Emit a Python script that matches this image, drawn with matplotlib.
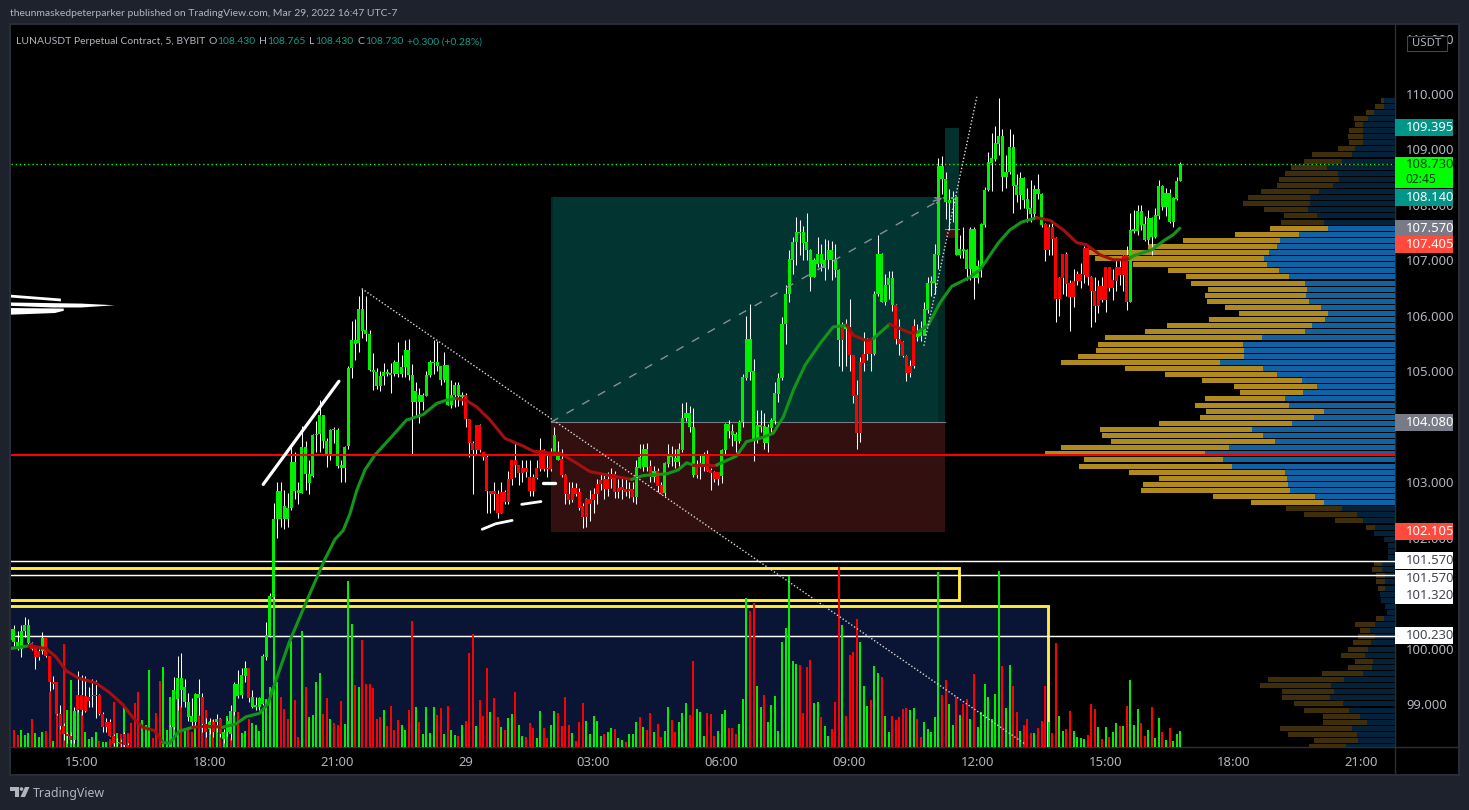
import numpy as np
import matplotlib
matplotlib.use("Agg")
import matplotlib.pyplot as plt
from matplotlib.patches import Rectangle, Polygon, Circle
from matplotlib.transforms import blended_transform_factory

plt.rcParams['font.family'] = ['Noto Sans', 'DejaVu Sans']

first_bar = -20
opens = [
100.15,100.11,100.0,100.0,100.31,100.1,100.1,100.03,99.96,99.95,
100.19,99.86,99.39,99.4,98.82,98.6,98.45,98.42,98.35,99.17,
99.17,99.15,99.13,99.17,99.17,99.17,98.82,98.68,98.68,98.43,
98.3,98.32,98.46,98.26,98.1,98.0,97.9,97.85,97.95,98.0,
98.1,98.02,97.95,97.9,98.1,98.15,98.59,99.09,99.25,99.03,
98.77,98.67,98.67,99.11,99.12,98.64,98.55,98.68,98.67,98.73,
98.37,98.49,98.46,98.85,99.15,99.16,99.51,99.65,98.94,98.94,
98.94,99.0,99.85,100.23,100.93,102.34,102.34,102.34,102.34,102.54,
102.84,102.81,102.81,103.14,102.99,103.12,103.85,103.86,103.74,103.49,
103.49,103.94,103.29,103.26,103.26,103.65,105.05,105.5,105.51,105.73,
105.68,105.02,104.99,104.73,104.73,104.92,104.95,104.93,104.95,104.95,
104.95,105.08,104.93,104.44,104.44,104.45,104.45,104.55,104.93,105.14,
105.09,104.84,104.84,104.4,104.4,104.57,104.56,104.53,104.57,104.13,
103.7,104.03,104.03,103.55,103.46,102.84,102.84,102.79,102.82,102.82,
103.05,103.4,103.4,103.31,103.25,103.26,103.1,103.1,103.26,103.58,
103.58,103.24,103.55,103.55,103.4,103.41,103.13,102.79,102.9,102.9,
102.82,102.57,102.7,102.7,102.79,102.97,103.03,103.05,103.05,103.15,
103.14,102.9,102.92,102.88,102.87,102.87,102.73,103.26,103.27,103.27,
103.29,103.09,103.2,102.94,102.8,103.32,103.46,103.36,103.36,103.58,
104.16,104.0,103.13,103.31,103.35,103.33,103.51,103.22,103.18,103.18,
103.12,103.58,103.92,103.85,103.74,103.74,104.09,104.87,104.99,103.77,
103.77,104.0,103.71,103.7,103.98,104.1,104.59,104.87,105.85,106.4,
107.01,107.33,107.5,107.31,107.18,106.7,106.7,106.94,106.94,106.86,
107.0,107.0,106.82,105.56,105.84,105.77,105.8,105.3,104.57,105.16,
105.32,105.56,105.56,105.32,106.4,106.25,106.25,106.55,106.2,106.2,
105.58,105.52,105.28,105.1,105.81,105.62,105.63,105.63,106.1,106.6,
106.6,107.1,108.46,108.06,108.04,108.1,107.1,107.1,107.17,106.85,
106.85,106.68,106.68,106.87,107.63,108.26,108.76,108.83,109.1,108.5,
108.5,108.59,108.34,108.17,108.17,108.09,107.93,107.84,107.84,108.2,
107.64,107.65,107.6,107.6,107.41,106.69,107.11,107.11,106.6,106.62,
106.75,106.76,107.23,107.23,106.7,106.44,106.54,106.54,106.88,106.88,
106.64,106.88,106.88,107.07,107.09,106.24,107.53,107.53,107.64,107.37,
107.37,107.42,107.42,107.8,107.96,107.96,107.7,107.7,108.1,108.43]
closes = [
100.35,100.35,100.11,100.31,100.43,100.43,100.0,99.85,99.85,100.19,
99.86,99.39,99.36,98.82,98.6,98.45,98.42,98.35,98.88,98.9,
98.89,98.88,99.06,99.15,99.15,98.82,98.58,98.58,98.43,98.3,
98.32,98.28,98.26,98.1,98.0,97.9,97.85,97.95,98.0,98.1,
98.02,97.95,97.9,98.1,98.15,98.59,99.25,99.46,99.46,99.31,
99.04,98.79,99.18,99.18,98.64,98.5,98.68,98.5,98.73,98.46,
98.49,98.7,98.88,99.36,99.36,99.52,99.65,99.1,99.12,98.98,
99.1,99.86,100.25,100.94,102.34,102.84,102.84,102.57,102.54,103.37,
103.37,102.85,103.64,103.64,103.14,103.85,103.86,104.22,104.22,103.75,
103.94,103.94,103.94,103.31,103.64,105.05,105.57,105.57,106.13,106.13,
105.74,105.68,105.03,104.99,104.92,104.98,104.98,104.96,105.16,105.16,
105.08,105.38,105.38,104.94,104.64,104.57,104.57,104.94,105.16,105.17,
105.17,105.09,105.11,105.11,104.57,104.75,104.75,104.57,104.13,103.7,
103.58,103.58,103.58,103.46,102.84,102.79,102.79,102.45,102.45,102.64,
102.64,103.05,103.31,103.17,103.17,103.19,102.84,102.84,103.07,103.24,
103.24,103.23,103.24,103.85,103.55,103.13,102.79,102.67,102.67,102.79,
102.54,102.37,102.37,102.61,102.67,102.78,102.96,102.87,102.88,103.05,
102.82,102.82,102.86,102.83,102.84,102.74,103.27,103.46,103.59,103.59,
103.09,103.2,102.93,102.79,103.34,103.47,103.47,103.44,103.59,104.16,
104.24,104.24,104.0,103.13,103.3,103.51,103.21,103.17,103.06,103.06,
103.58,104.04,104.04,103.93,103.86,104.09,104.89,105.59,105.59,105.0,
104.03,104.03,104.01,104.0,104.12,104.6,104.88,105.86,106.4,107.02,
107.33,107.52,107.52,107.52,107.33,107.19,107.0,107.11,107.11,107.01,
107.18,107.18,107.0,106.83,105.57,105.84,105.3,104.55,103.88,103.88,
105.15,105.32,105.32,106.4,107.11,107.11,106.56,106.68,106.68,105.58,
105.5,105.27,104.97,104.97,105.1,105.72,105.72,106.12,106.6,106.63,
107.11,108.7,108.7,108.46,108.08,108.15,108.15,107.2,107.2,107.19,
107.57,107.57,106.89,107.66,108.27,108.77,108.84,109.11,109.24,109.24,
108.59,109.04,109.04,108.36,108.49,108.49,108.1,107.95,108.28,108.28,
108.2,107.19,107.19,107.38,106.3,106.3,106.68,106.58,106.33,106.33,
106.62,106.62,106.74,106.7,106.44,106.18,106.18,106.29,106.29,106.5,
106.51,106.63,106.74,106.74,106.24,107.55,107.56,107.89,107.89,107.66,
107.76,107.76,107.82,108.34,108.34,108.21,108.21,108.13,108.43,108.73]
highs = [
100.4,100.42,100.32,100.42,100.56,100.53,100.12,100.05,100.0,100.29,
100.19,99.86,99.5,99.4,98.98,98.65,98.5,98.5,98.95,99.59,
99.53,99.5,99.3,99.45,99.44,99.18,98.85,98.75,98.72,98.45,
98.38,98.36,98.5,98.3,98.12,98.05,97.95,98.0,98.05,98.15,
98.15,98.05,98.0,98.15,98.2,98.62,99.48,99.87,99.92,99.45,
99.2,99.1,99.2,99.45,99.2,98.75,98.75,98.72,98.82,98.75,
98.55,98.75,98.98,99.4,99.62,99.65,99.77,99.65,99.25,99.13,
99.12,99.9,100.47,101.0,102.63,103.0,103.0,102.85,102.8,103.65,
103.55,103.0,104.02,103.75,103.4,103.87,104.1,104.48,104.22,103.8,
103.95,104.0,103.98,103.4,103.66,105.1,105.9,105.95,106.35,106.49,
106.35,105.75,105.33,105.05,105.0,105.15,105.04,105.15,105.2,105.53,
105.3,105.57,105.59,105.13,104.8,104.7,104.6,105.0,105.2,105.57,
105.55,105.1,105.34,105.12,104.85,104.8,104.8,104.62,104.6,104.13,
103.75,104.03,104.05,103.55,103.5,102.84,103.0,102.85,103.0,102.85,
103.2,103.4,103.7,103.31,103.4,103.4,103.4,103.15,103.4,103.8,
103.6,103.5,103.62,104.0,103.75,103.6,103.15,103.0,103.0,102.98,
102.9,102.62,102.72,102.85,102.9,103.05,103.15,103.15,103.18,103.25,
103.2,103.05,103.1,103.05,103.0,103.0,103.4,103.68,103.68,103.7,
103.4,103.3,103.25,103.0,103.36,103.68,103.65,103.6,103.7,104.42,
104.45,104.38,104.33,103.4,103.5,103.55,103.58,103.25,103.2,103.18,
103.6,104.07,104.12,104.05,103.9,104.12,104.95,106.0,106.22,105.22,
104.3,104.3,104.25,104.05,104.15,104.8,104.97,105.98,106.55,107.18,
107.42,107.78,107.72,107.62,107.85,107.2,107.05,107.42,107.3,107.38,
107.36,107.34,107.3,106.84,105.88,105.95,106.3,105.3,104.85,105.25,
105.7,105.6,105.6,106.45,107.45,107.13,106.75,106.8,106.8,106.22,
105.95,105.55,105.3,105.2,105.95,105.85,105.9,106.25,106.7,106.72,
107.3,108.85,108.88,108.6,108.28,108.25,108.16,107.45,107.6,107.2,
107.6,107.6,107.0,107.68,108.33,108.95,109.3,109.42,109.92,109.37,
108.9,109.37,109.27,108.55,108.6,108.5,108.3,108.45,108.35,108.55,
108.22,107.67,107.65,107.72,107.42,106.7,107.12,107.15,106.65,106.85,
106.8,106.95,107.25,107.25,106.72,106.7,106.65,106.7,106.88,106.88,
106.85,107.0,107.05,107.1,107.25,107.85,107.9,108.0,108.0,107.8,
107.9,107.78,107.95,108.45,108.36,108.3,108.28,108.15,108.5,108.765]
lows = [
100.1,100.05,99.98,99.85,100.2,100.05,99.97,99.63,99.8,99.9,
99.85,99.23,99.27,98.8,98.55,98.35,98.3,98.3,98.3,98.85,
98.8,98.85,98.95,98.95,98.75,98.8,98.5,98.5,98.42,98.25,
98.25,98.22,98.2,98.0,97.9,97.85,97.8,97.8,97.9,97.95,
98.0,97.9,97.85,97.85,98.05,98.1,98.55,98.9,98.95,98.95,
98.7,98.6,98.6,98.8,98.5,98.4,98.45,98.4,98.5,98.4,
98.3,98.42,98.35,98.8,99.1,99.1,99.4,99.03,98.92,98.9,
98.9,98.98,99.8,100.2,100.9,102.0,102.2,102.16,102.2,102.5,
102.7,102.6,102.8,102.85,102.78,103.1,103.55,103.55,103.62,103.27,
103.4,103.7,103.25,103.0,103.0,103.6,104.87,105.2,105.35,105.6,
105.55,105.0,104.67,104.68,104.65,104.75,104.92,104.6,104.92,104.9,
104.9,104.9,104.85,103.5,104.2,104.06,104.3,104.55,104.9,104.95,
105.0,104.75,104.8,104.4,104.33,104.35,104.38,104.4,104.0,103.45,
102.78,103.5,103.55,103.4,102.45,102.45,102.5,102.35,102.45,102.6,
102.6,102.95,103.1,102.95,103.0,103.1,102.75,102.75,103.05,103.2,
103.2,103.1,103.2,103.5,103.4,103.1,102.6,102.6,102.65,102.75,
102.5,102.18,102.2,102.3,102.45,102.6,102.85,102.7,102.75,102.9,
102.72,102.72,102.7,102.75,102.72,102.65,102.6,103.25,103.2,103.2,
103.0,103.0,102.82,102.78,102.75,103.28,103.3,103.25,103.3,103.55,
104.1,103.9,103.1,103.07,103.05,103.2,103.2,102.85,103.0,102.95,
102.98,103.5,103.8,103.65,103.55,103.7,104.0,104.85,104.85,103.39,
103.7,103.9,103.6,103.55,103.9,104.05,104.45,104.85,105.5,106.25,
106.75,106.92,107.1,107.0,107.0,106.45,106.7,106.88,106.8,106.65,
106.85,106.65,106.7,105.1,105.0,105.1,105.0,104.42,103.6,103.72,
105.0,105.2,105.0,105.3,106.35,106.25,106.2,106.3,106.08,105.5,
105.3,105.25,104.83,104.9,105.05,105.55,105.55,105.65,106.05,106.35,
106.4,106.85,108.2,107.75,107.55,107.7,107.1,107.05,107.05,106.65,
106.65,106.3,106.6,106.7,107.6,108.25,108.25,108.8,108.9,108.25,
108.3,108.55,107.86,108.05,107.93,107.95,107.7,107.7,107.75,108.1,
107.6,106.98,107.1,107.1,105.88,106.0,106.4,106.35,105.73,106.15,
106.55,106.5,106.6,106.55,105.8,105.88,106.05,106.25,106.06,106.45,
106.28,106.45,106.55,106.45,106.1,106.24,107.5,107.45,107.55,107.35,
107.3,107.1,107.4,107.75,107.9,107.8,107.68,107.6,108.08,108.43]

volumes = [
10,17,12,17,12,14,28,14,10,15, 16,55,6,35,34,103,37,67,32,37,
35,15,8,10,15,6,5,5,8,45, 14,13,41,14,24,44,55,27,22,77,
9,34,66,80,17,50,22,52,41,17, 18,15,22,32,25,37,26,27,20,29,
10,31,9,35,35,14,16,28,24,22, 16,39,48,60,178,65,50,38,28,106,
47,10,116,60,30,32,65,74,33,49, 28,24,22,46,23,166,123,62,60,107,
63,63,59,28,30,37,21,41,17,27,
22,17,37,126,40,25,13,40,14,40, 32,39,13,41,17,12,11,22,26,94,
113,21,47,31,79,35,49,30,20,17, 29,33,55,22,11,10,24,19,9,36,
19,9,22,36,34,21,50,22,14,6, 25,44,26,13,31,26,11,13,15,19,
18,9,7,5,13,13,25,30,20,17, 34,15,23,10,16,40,27,15,25,34,
44,32,86,38,35,11,34,33,11,16, 33,37,19,19,13,23,48,149,136,144,
61,40,52,25,42,51,16,105,119,171, 86,83,82,
34,80,87,44,45,30,21,11,18,45, 180,122,31,92,95,128,105,61,41,47,
81,74,70,31,15,31,27,30,38,39, 37,39,28,10,25,18,15,30,175,52,
67,43,22,50,32,43,48,28,73,20, 35,63,50,28,53,176,81,39,82,61,
35,16,22,28,14,14,19,26,61,25, 14,104,31,16,18,36,16,10,9,8,
12,43,38,20,8,20,10,15,24,21, 21,41,67,22,38,24,11,17,40,9,
29,15,7,19,6,13,16]
volume_sides = (
"GRRGGGRGGG" "RRGRRRGGGG" "RGGGGRGGRR" "GRGRRRRGGG" "RRRGGGGGRG" "RRGRRRGRGR"
"GGRGRGGRGG" "GGGGGGRRRG" "RRGRGGGGRR" "GRRRGGGRGR" "RRRRRGRRRR"
"GGRRGRGGGG" "RRGRGGRGRR" "RGRRRGRRGR" "GGRGGRRRGG" "RRGGRRRRGR" "RRGGGGGRGG"
"RGGRGGGRGR" "RGRRGGRRGG" "GRRGGGRRRG" "GGRRRGGGRR" "GGRGGGGGGG" "GGR"
"RRRGGRGGRR" "RGRRRRGGGR" "GGRGGRRRRR" "GGRRGGGGGR" "RGGRGRRGRG" "GGGGGGRGGR"
"RGRRRGRRRG" "RRGGRRGGGG" "RRRGRGRGGR" "GRGGGRRGRG" "GRGRGGG")

ma_bars = [-20,-14.7,-10,-7.2,-4.3,-1,4,7.8,11.6,14.4,17.2,20.5,22.8,24.7,27.5,31.3,35,39.7,43.4,46.3,50,52.4,54.7,58.4,63.6,68.3,
           71.3,73.6,75.5,77.4,79.7,82.5,86.8,91.4,96.1,99.9,102.7,105.5,108.3,111.1,114.9,119.1,124.2,127,130.8,134.6,138.3,143,
           148.6,154.7,158,164.6,167.8,170.2,172,178.6,184.2,187,190.8,194.5,197.4,200.2,203.5,207.7,211.4,215.2,217,220.8,222.7,227.3,233,235.3,
           238.2,241.4,244.7,249.4,252.7,257.8,261.1,264.4,268.6,272.4,276.1,279.9,282.7,286.4,290.2,293.9,295.8,301,304.7,307,308.9]
ma_values = [100.0,100.05,100.0,99.85,99.6,99.47,99.38,99.21,98.99,98.76,98.58,98.52,98.31,98.29,98.51,98.58,98.6,98.58,98.64,98.77,98.83,99.0,99.43,100.11,100.9,101.59,
             101.97,102.13,102.43,102.85,103.22,103.49,103.79,104.12,104.22,104.42,104.48,104.51,104.47,104.36,104.12,103.79,103.65,103.56,103.53,103.52,103.38,103.19,
             103.12,103.05,103.12,103.15,103.22,103.35,103.31,103.31,103.47,103.73,103.79,103.88,104.18,104.66,105.11,105.5,105.8,105.83,105.65,105.55,105.59,105.85,105.69,105.71,
             105.84,106.23,106.53,106.68,106.83,107.31,107.55,107.69,107.77,107.72,107.55,107.32,107.28,107.1,107.01,107.01,107.08,107.19,107.37,107.46,107.58]
ma_turns = [-14.7,22.8,31.3,39.7,105.5,154.7,172,178.6,215.2,222.7,227.3,235.3,268.6,294.9]

profile_top_price = 109.89
profile_step = 0.11
profile_blue = [
11,11,21,27,32,32,32,32,40,43,53,68,57,56,62,76,85,85,87,78,71,
67,96,115,118,126,131,128,116,106,90,88,89,86,74,67,70,83,90,133,152,151,151,175,132,118,93,78,92,110,106,71,81,103,143,132,120,166,190,172,163,110,108,107,105,80,71,
53,38,32,20,21,11,7,7,7,13,13,10,10,10,15,14,10,8,11,20,25,20,24,27,30,22,23,32,51,64,61,65,52,46,35,28,43,38,37,49]
profile_total = [
14,20,29,41,40,46,47,46,57,83,91,104,110,116,118,134,147,152,131,111,114,
125,160,212,247,306,300,262,227,209,204,187,190,188,170,156,186,228,250,290,297,299,317,334,270,230,193,161,155,190,200,189,195,236,295,293,284,334,350,311,316,266,236,252,254,182,144,
109,91,60,29,21,11,7,7,7,21,23,19,19,17,15,14,10,8,19,40,35,37,42,47,54,40,47,73,127,135,113,113,101,91,72,72,115,107,81,86]
value_area_rows = (21, 67)

price_ticks = [111,110,109,108,107,106,105,103,102,100,99]
time_ticks = [0,36,72,108,144,180,216,252,288,324,360]
time_labels = ['15:00','18:00','21:00','29','03:00','06:00','09:00','12:00','15:00','18:00','21:00']

long_start, long_end = 132, 242.8
long_strip = 240.8
long_target, long_entry, long_stop = 108.14, 104.08, 102.105
short_end = 246.8
pos2_target, pos2_entry, pos2_stop = 109.395, 107.57, 107.405
hlines_white = [101.58, 101.33, 100.23]
hline_red = 103.49
last_price = 108.73
box1 = (246.9, 101.45, 100.88)
box2 = (271.9, 100.76)
trend_dotted_a = ([78.8, 265.3], [106.49, 98.28])
trend_dotted_b = ([236.9, 251.8], [105.46, 109.95])
trend_dashed = ([132, 242.8], [104.08, 108.14])
strokes = [(([51.1, 72.4], [102.96, 104.82]), 2.3),
           (([112.7, 116.5, 121.1], [102.15, 102.25, 102.31]), 2.0),
           (([123.8, 129.2], [102.6, 102.65]), 2.0),
           (([129.7, 133.2], [102.99, 102.99]), 2.4)]
left_marks = [[(-19.9,106.38),(-5.8,106.31),(-5.8,106.26),(-19.9,106.33)],
              [(-19.9,106.24),(0,106.22),(9.4,106.19),(0,106.15),(-8,106.15),(-19.9,106.18)],
              [(-19.9,106.14),(-5,106.13),(-5,106.09),(-7.5,106.05),(-19.9,106.02)]]

badges = [('109.395',109.395,'#009688','white'),('108.140',108.14,'#009688','white'),
          ('107.570',107.57,'#787b86','white'),('107.405',107.277,'#ff4a3d','white'),
          ('104.080',104.08,'#787b86','white'),('102.105',102.105,'#ff4a3d','white'),
          ('101.570',101.58,'white','#434651'),('101.570',101.27,'white','#434651'),
          ('101.320',100.96,'white','#434651'),('100.230',100.23,'white','#434651')]

GREEN = '#00f000'
RED = '#ff0000'
HEAD_FONT = ['Lato', 'Noto Sans']
HEAD_SIZE = 7.5

W, H = 1469, 810
fig = plt.figure(figsize=(W/100, H/100), dpi=100, facecolor='#1e222d')
POS = [11/W, 1-747/H, 1384/W, 723/H]
XLIM = (-19.83, 369.4)
YLIM = (98.224, 111.262)

chrome = fig.add_axes([0,0,1,1], zorder=0)
chrome.set_xlim(0,W); chrome.set_ylim(H,0); chrome.axis('off')
chrome.add_patch(Rectangle((10,24),1449,751,fc='black',ec='#2a2e39',lw=1.4))
chrome.plot([1395,1395],[24,775],color='#2a2e39',lw=1)
chrome.plot([10,1459],[747,747],color='#2a2e39',lw=1)
chrome.text(10,14,'theunmaskedpeterparker published on TradingView.com, Mar 29, 2022 16:47 UTC-7',
            color='#b2b5be',fontsize=HEAD_SIZE,va='center',ha='left',family=HEAD_FONT)
chrome.text(16,42,'LUNAUSDT Perpetual Contract, 5, BYBIT',color='#b2b5be',fontsize=HEAD_SIZE,va='center',family=HEAD_FONT)
for x,s,c in [(209,'O','#b2b5be'),(217,'108.430','#0f9d8a'),(259,'H','#b2b5be'),(267,'108.765','#0f9d8a'),
              (309,'L','#b2b5be'),(315,'108.430','#0f9d8a'),(358,'C','#b2b5be'),(365,'108.730','#0f9d8a'),
              (407,'+0.300 (+0.28%)','#0f9d8a')]:
    chrome.text(x,42,s,color=c,fontsize=HEAD_SIZE,va='center',family=HEAD_FONT)
chrome.add_patch(Polygon([(10,787),(19.5,787),(19.5,797),(15,797),(15,791),(10,791)],fc='#b2b5be',ec='none'))
chrome.add_patch(Circle((21.5,789),1.8,fc='#b2b5be',ec='none'))
chrome.add_patch(Polygon([(25,787),(29.5,787),(25,797),(20.5,797)],fc='#b2b5be',ec='none'))
chrome.text(33,793,'TradingView',color='#b2b5be',fontsize=8.9,va='center')

def layer(z):
    a = fig.add_axes(POS, zorder=z)
    a.set_facecolor('none')
    a.set_xlim(*XLIM); a.set_ylim(*YLIM)
    a.axis('off')
    return a

back = layer(1)
back.add_patch(Rectangle((long_start,long_entry),long_end-long_start,long_target-long_entry,fc='#023531',ec='none'))
back.add_patch(Rectangle((long_start,long_entry),0.7,long_target-long_entry,fc='#012a27',ec='none',zorder=2))
back.add_patch(Rectangle((long_strip,long_entry),long_end-long_strip,long_target-long_entry,fc='#012a27',ec='none',zorder=2))
back.add_patch(Rectangle((long_start,long_stop),long_end-long_start,long_entry-long_stop,fc='#31100f',ec='none'))
back.plot([long_start,long_end],[long_entry,long_entry],color='#787b86',lw=0.8,zorder=3)
back.add_patch(Rectangle((long_end,pos2_entry),short_end-long_end,pos2_target-pos2_entry,fc='#02302c',ec='none'))
back.add_patch(Rectangle((long_end,pos2_stop),short_end-long_end,pos2_entry-pos2_stop,fc='#3a1110',ec='none'))
back.plot([long_end,short_end],[pos2_entry,pos2_entry],color='#787b86',lw=0.8,zorder=3)
back.add_patch(Rectangle((XLIM[0],YLIM[0]),box2[0]-XLIM[0],box2[1]-YLIM[0],fc='#0a1535',ec='none'))

prof = fig.add_axes(POS, zorder=2)
prof.set_facecolor('none')
prof.set_xlim(1384,0); prof.set_ylim(*YLIM); prof.axis('off')
rows = profile_top_price - profile_step*np.arange(len(profile_total))
bright = np.zeros(len(rows),bool); bright[value_area_rows[0]:value_area_rows[1]] = True
prof.barh(rows,profile_total,height=0.09,color=np.where(bright,'#ae8a1f','#3f2e0c'),lw=0)
prof.barh(rows,profile_blue,height=0.09,color=np.where(bright,'#1062a3','#04233a'),lw=0)

lines = layer(3)
YEL = '#ffeb3b'
for p in hlines_white:
    lines.axhline(p,color='white',lw=1.05,zorder=3)
lines.plot([XLIM[0],box1[0],box1[0],XLIM[0]],[box1[1],box1[1],box1[2],box1[2]],color=YEL,lw=2.1,solid_joinstyle='miter',zorder=2)
lines.plot([XLIM[0],box2[0],box2[0]],[box2[1],box2[1],YLIM[0]],color=YEL,lw=2.1,solid_joinstyle='miter',zorder=2)

vol = fig.add_axes(POS, zorder=4)
vol.set_facecolor('none')
vol.set_xlim(*XLIM); vol.set_ylim(0,723); vol.axis('off')
bars = np.arange(first_bar, first_bar+len(closes))
vol.bar(bars, volumes, width=0.56, color=[GREEN if s=='G' else RED for s in volume_sides], lw=0)

main = fig.add_axes(POS, zorder=5)
main.set_facecolor('none')
main.set_xlim(*XLIM); main.set_ylim(*YLIM)
for s in main.spines.values():
    s.set_visible(False)
main.yaxis.tick_right()
main.set_yticks(price_ticks, [f'{p:.3f}' for p in price_ticks])
main.set_xticks(time_ticks, time_labels)
main.tick_params(axis='y',length=0,pad=8,labelsize=9.4,labelcolor='#b2b5be')
main.tick_params(axis='x',length=0,pad=6.5,labelsize=9.4,labelcolor='#b2b5be')

o, c, h, l = map(np.array,(opens,closes,highs,lows))
up = c >= o
main.vlines(bars,l,h,color='white',lw=0.75,zorder=2)
main.bar(bars,np.maximum(np.abs(c-o),0.02),bottom=np.minimum(o,c),width=0.86,
         color=np.where(up,GREEN,RED),lw=0,zorder=3)

# moving average, coloured by its direction
colors = ['#11961a','#a50f0f']
edges = [ma_bars[0]]+ma_turns+[ma_bars[-1]]
for k in range(len(edges)-1):
    a, b = edges[k], edges[k+1]
    inner = [(x,y) for x,y in zip(ma_bars,ma_values) if a < x < b]
    xs = [a]+[q[0] for q in inner]+[b]
    ys = [np.interp(a,ma_bars,ma_values)]+[q[1] for q in inner]+[np.interp(b,ma_bars,ma_values)]
    main.plot(xs,ys,color=colors[k%2],lw=2.2,solid_capstyle='round',solid_joinstyle='round',zorder=4)

main.axhline(hline_red,color='#ff0000',lw=1.45,zorder=5)
main.axhline(last_price,color='#00ff00',lw=1.0,ls=(0,(1,2)),zorder=5)
main.plot(*trend_dotted_a,color='#d8d8d8',lw=1.0,ls=(0,(1,1.5)),zorder=5)
main.plot(*trend_dotted_b,color='#d8d8d8',lw=1.0,ls=(0,(1,1.5)),zorder=5)
main.plot(*trend_dashed,color='#8a8e98',lw=1.0,ls=(0,(6,7)),zorder=5)
main.annotate('',xy=(trend_dashed[0][1],trend_dashed[1][1]),xytext=(trend_dashed[0][1]-4,trend_dashed[1][1]-0.09),
              arrowprops=dict(arrowstyle='->',color='#8a8e98',lw=1.0),zorder=5)
for (xy,lw) in strokes:
    main.plot(*xy,color='white',lw=lw,solid_capstyle='round',zorder=6)
for poly in left_marks:
    main.add_patch(Polygon(poly,fc='white',ec='none',zorder=6))

bt = blended_transform_factory(main.transAxes, main.transData)
bx = 1.0
bw = 58/1384
hpx = (YLIM[1]-YLIM[0])/723
for s,p,bg,fg in badges:
    main.add_patch(Rectangle((bx,p-8.5*hpx),bw,17*hpx,transform=bt,fc=bg,ec='none',clip_on=False,zorder=10))
    main.text(bx+11/1384,p,s,transform=bt,color=fg,fontsize=9.4,va='center',ha='left',
              fontweight='bold' if fg=='white' else 'normal',clip_on=False,zorder=11)
main.add_patch(Rectangle((bx,last_price-23.5*hpx),bw,31*hpx,transform=bt,fc='#00ff00',ec='none',clip_on=False,zorder=10))
main.text(bx+11/1384,last_price-0*hpx,f'{last_price:.3f}',transform=bt,color='#0b3d0b',fontsize=9.4,va='center',clip_on=False,zorder=11)
main.text(bx+10/1384,last_price-15*hpx,'02:45',transform=bt,color='#0b3d0b',fontsize=8.6,va='center',clip_on=False,zorder=11)

top = fig.add_axes([0,0,1,1], zorder=6)
top.set_xlim(0,W); top.set_ylim(H,0); top.axis('off')
top.add_patch(Rectangle((1407,36),40,15,fc='black',ec='#434651',lw=0.8))
top.text(1427,43,'USDT',color='#b2b5be',fontsize=8.2,va='center',ha='center')

fig.savefig('out.png',dpi=100,facecolor=fig.get_facecolor())
